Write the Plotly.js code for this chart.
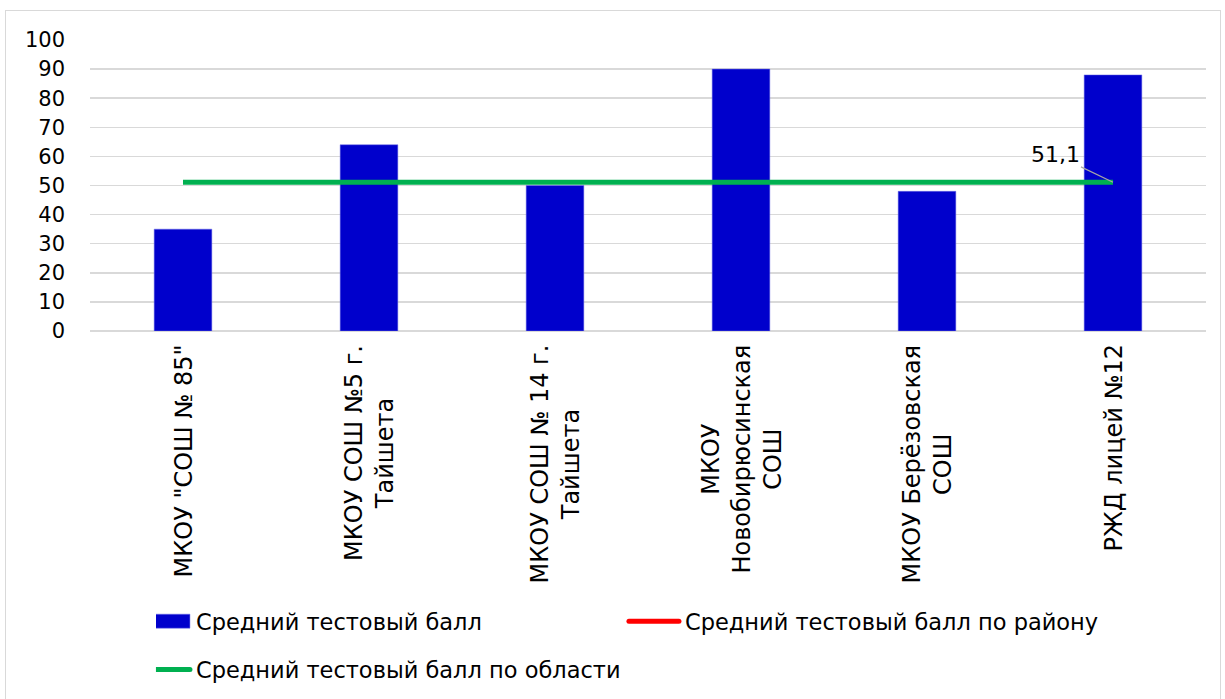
<!DOCTYPE html>
<html>
<head>
<meta charset="utf-8">
<script src="https://cdn.plot.ly/plotly-3.0.1.min.js"></script>
<style>
  html, body { margin: 0; padding: 0; background: #fff; }
  #frame { position: absolute; left: 5px; top: 10px; width: 1216px; height: 700px; border: 1px solid #d9d9d9; box-sizing: border-box; }
  #chart { position: absolute; left: 0; top: 0; width: 1225px; height: 699px; }
</style>
</head>
<body>
<div id="frame"></div>
<div id="chart"></div>
<script>
const categories = [
  'МКОУ "СОШ № 85"',
  'МКОУ СОШ №5 г.<br>Тайшета',
  'МКОУ СОШ № 14 г.<br>Тайшета',
  'МКОУ<br>Новобирюсинская<br>СОШ',
  'МКОУ Берёзовская<br>СОШ',
  'РЖД лицей №12'
];
const schoolScores = [35, 64, 50, 90, 48, 88];
const districtScores = [null, null, null, null, null, null];
const regionScores = [51.1, 51.1, 51.1, 51.1, 51.1, 51.1];
const regionLabel = '51,1';
const seriesNames = ['Средний тестовый балл', 'Средний тестовый балл по району', 'Средний тестовый балл по области'];
const yTicks = [0, 10, 20, 30, 40, 50, 60, 70, 80, 90, 100];

const FONT = 'DejaVu Sans, Liberation Sans, Arial, sans-serif';
const catKeys = categories.map((c, i) => 'c' + i);

const traces = [
  { type: 'bar', x: catKeys, y: schoolScores, name: seriesNames[0], width: 0.31,
    marker: { color: '#0000cc', line: { color: '#6f6fe6', width: 0.5 } }, legend: 'legend', hoverinfo: 'y' },
  { type: 'scatter', mode: 'lines', x: catKeys, y: districtScores, name: seriesNames[1],
    line: { color: '#ff0000', width: 5 }, legend: 'legend', connectgaps: false },
  { type: 'scatter', mode: 'lines', x: catKeys, y: regionScores, name: seriesNames[2],
    line: { color: '#00b050', width: 5 }, legend: 'legend2' }
];

const annotations = categories.map((c, i) => ({
  x: catKeys[i], xref: 'x', y: 0, yref: 'y', yanchor: 'top', xanchor: 'center',
  yshift: -12, text: c, textangle: -90, showarrow: false, align: 'center',
  font: { family: FONT, size: 24, color: '#000' }
}));
annotations.push({
  x: catKeys[5], xref: 'x', y: regionScores[5], yref: 'y', text: regionLabel,
  showarrow: true, arrowhead: 0, arrowwidth: 1.2, arrowcolor: '#a6a6a6', standoff: 0,
  ax: -58, ay: -28, font: { family: FONT, size: 22, color: '#000' }
});

const layout = {
  width: 1225, height: 699,
  paper_bgcolor: 'rgba(0,0,0,0)', plot_bgcolor: 'rgba(0,0,0,0)',
  margin: { l: 90, r: 19, t: 40, b: 368 },
  showlegend: true,
  bargap: 0.69,
  xaxis: { type: 'category', showticklabels: false, showgrid: false, zeroline: false, showline: false, ticks: '' },
  yaxis: { range: [0, 100], tickvals: yTicks, showgrid: true, gridcolor: '#d9d9d9', gridwidth: 1.5,
           zeroline: true, zerolinecolor: '#d9d9d9', zerolinewidth: 1.5, showline: false, ticks: '',
           ticklabelstandoff: 24,
           tickfont: { family: FONT, size: 21, color: '#000' } },
  legend: { orientation: 'h', xref: 'container', yref: 'container', x: 0.1273, y: 0.1416,
            xanchor: 'left', yanchor: 'top', entrywidth: 444, entrywidthmode: 'pixels',
            font: { family: FONT, size: 22.5, color: '#000' }, bgcolor: 'rgba(0,0,0,0)' },
  legend2: { orientation: 'h', xref: 'container', yref: 'container', x: 0.1273, y: 0.0726,
            xanchor: 'left', yanchor: 'top',
            font: { family: FONT, size: 22.5, color: '#000' }, bgcolor: 'rgba(0,0,0,0)' },
  annotations: annotations
};

Plotly.newPlot('chart', traces, layout, { displayModeBar: false, staticPlot: true }).then(gd => {
  // widen legend symbols to match the reference's long swatches
  gd.querySelectorAll('.traces').forEach(item => {
    item.querySelectorAll('.legendlines path').forEach(p => {
      p.setAttribute('d', 'M-16,0h50');
      p.style.strokeLinecap = 'round';
    });
    item.querySelectorAll('.legendpoints path').forEach(p => {
      p.setAttribute('d', 'M14,7H-38V-7H14Z');
    });
  });
});
</script>
</body>
</html>
